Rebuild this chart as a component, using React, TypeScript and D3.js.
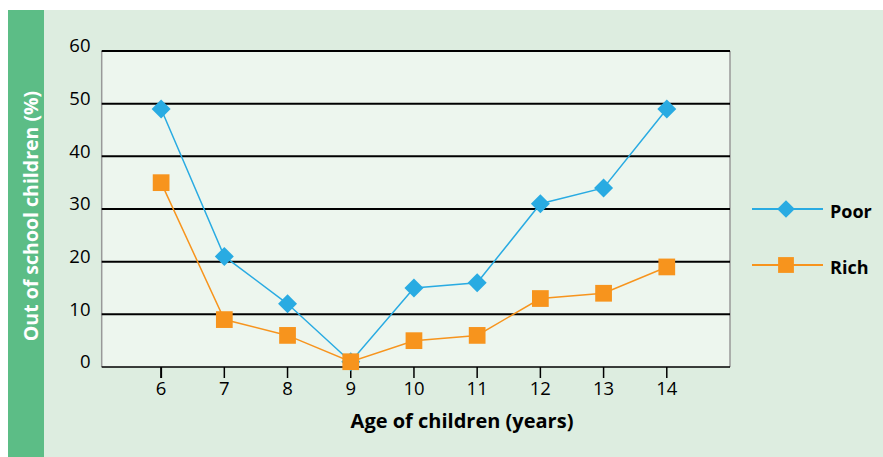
import React from "react";
import * as d3 from "d3";

const ages = [6, 7, 8, 9, 10, 11, 12, 13, 14];
const poor = [49, 21, 12, 1, 15, 16, 31, 34, 49];
const rich = [35, 9, 6, 1, 5, 6, 13, 14, 19];
const yTicks = [0, 10, 20, 30, 40, 50, 60];
const seriesNames = ["Poor", "Rich"];

const W = 883;
const H = 457;
const FONT = "'Open Sans', 'Noto Sans', sans-serif";
const BLUE = "#29abe2";
const ORANGE = "#f7941d";

export default function App() {
  const left = 101.7, right = 730, top = 51, bottom = 367;
  const x = d3.scaleLinear().domain([5.06, 15]).range([left, right]);
  const y = d3.scaleLinear().domain([0, 60]).range([bottom, top]);
  const line = d3
    .line<number>()
    .x((_, i) => x(ages[i]))
    .y((d) => y(d));
  const diamond = d3.symbol().type(d3.symbolDiamond2).size(230)();
  const square = d3.symbol().type(d3.symbolSquare).size(280)();

  return (
    <svg
      width={W}
      height={H}
      style={{ position: "absolute", left: 0, top: 0, background: "#fff" }}
    >
      <rect x={44} y={10} width={W - 44} height={H - 10} fill="#ddede0" />
      <rect x={8} y={10} width={36} height={H - 10} fill="#5cbd86" />
      <text
        transform={`translate(38,${216}) rotate(-90)`}
        textAnchor="middle"
        fill="#fff"
        fontFamily={FONT}
        fontWeight={700}
        fontSize={19.5}
      >
        Out of school children (%)
      </text>
      <rect x={left} y={top} width={right - left} height={bottom - top} fill="#edf6ee" />
      <line x1={left} x2={left} y1={top} y2={bottom} stroke="#999" strokeWidth={1.5} />
      <line x1={right} x2={right} y1={top} y2={bottom} stroke="#999" strokeWidth={1.5} />
      {yTicks.map((t) => (
        <g key={t}>
          <line x1={left} x2={right} y1={y(t)} y2={y(t)} stroke="#000" strokeWidth={t === 0 ? 1.5 : 2} />
          <text
            x={90.5}
            y={y(t) - 3.5}
            textAnchor="end"
            dominantBaseline="middle"
            fontFamily={FONT}
            fontSize={18.5}
            fill="#000"
          >
            {t}
          </text>
        </g>
      ))}
      {ages.map((a) => (
        <g key={a}>
          <line x1={x(a)} x2={x(a)} y1={bottom} y2={bottom + 11} stroke="#000" strokeWidth={a === 6 ? 2 : 1.5} />
          <text
            x={x(a)}
            y={bottom + 23}
            textAnchor="middle"
            dominantBaseline="middle"
            fontFamily={FONT}
            fontSize={18.5}
            fill="#000"
          >
            {a}
          </text>
        </g>
      ))}
      <text
        x={462}
        y={423}
        textAnchor="middle"
        dominantBaseline="middle"
        fontFamily={FONT}
        fontWeight={700}
        fontSize={20}
        fill="#000"
      >
        Age of children (years)
      </text>
      <path d={line(poor) || ""} fill="none" stroke={BLUE} strokeWidth={1.5} />
      {poor.map((v, i) => (
        <path key={"p" + i} d={diamond || ""} transform={`translate(${x(ages[i])},${y(v)})`} fill={BLUE} />
      ))}
      <path d={line(rich) || ""} fill="none" stroke={ORANGE} strokeWidth={1.5} />
      {rich.map((v, i) => (
        <path key={"r" + i} d={square || ""} transform={`translate(${x(ages[i])},${y(v)})`} fill={ORANGE} />
      ))}
      {seriesNames.map((name, i) => {
        const ly = 209 + i * 56;
        const col = i === 0 ? BLUE : ORANGE;
        return (
          <g key={name}>
            <line x1={752} x2={823} y1={ly} y2={ly} stroke={col} strokeWidth={2} />
            <path
              d={(i === 0 ? d3.symbol().type(d3.symbolDiamond2).size(200)() : d3.symbol().type(d3.symbolSquare).size(250)()) || ""}
              transform={`translate(786,${ly})`}
              fill={col}
            />
            <text
              x={830}
              y={ly + 4}
              dominantBaseline="middle"
              fontFamily={FONT}
              fontWeight={700}
              fontSize={18}
              fill="#000"
            >
              {name}
            </text>
          </g>
        );
      })}
    </svg>
  );
}
